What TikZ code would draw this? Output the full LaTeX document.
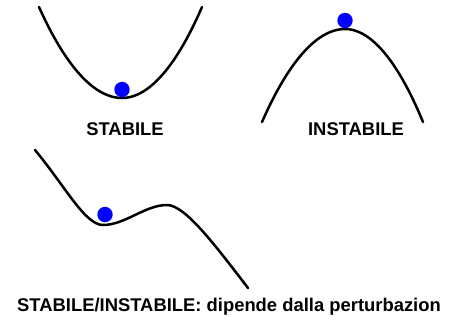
\documentclass[tikz,border=0pt]{standalone}
\usepackage{fontspec}
\setmainfont{Liberation Sans}
\usepackage{tikz}
\definecolor{BALLblue}{RGB}{0,0,255}

\begin{document}
\begin{tikzpicture}[x=1bp,y=-1bp,
    curve/.style={line width=2.5bp,line cap=round},
    ball/.style={fill=BALLblue},
    lbl/.style={font=\fontsize{18.4bp}{20bp}\selectfont\bfseries,inner sep=0pt}]
    \useasboundingbox (0,0) rectangle (449,321);
    % stabile
    \draw[curve] (39,7) parabola bend (122,98) (202,7);
    \fill[ball] (122,89.5) circle (7.7);
    \node[lbl] (stab) at (125,129.5) {STABILE};
    % instabile
    \draw[curve] (262,122) parabola bend (345,29) (423,122);
    \fill[ball] (345,20.5) circle (7.7);
    \node[lbl] (instab) at (356,129.5) {INSTABILE};
    % dipende
    \draw[curve] (35,150) .. controls (65,186) and (85,225) .. (103,225)
      .. controls (125,225) and (145,205) .. (167,205)
      .. controls (185,205) and (215,245) .. (248,288);
    \fill[ball] (105,214.5) circle (7.7);
    \node[lbl,anchor=base] (dip) at (229,311) {STABILE/INSTABILE: dipende dalla perturbazion};
  \end{tikzpicture}
\end{document}
